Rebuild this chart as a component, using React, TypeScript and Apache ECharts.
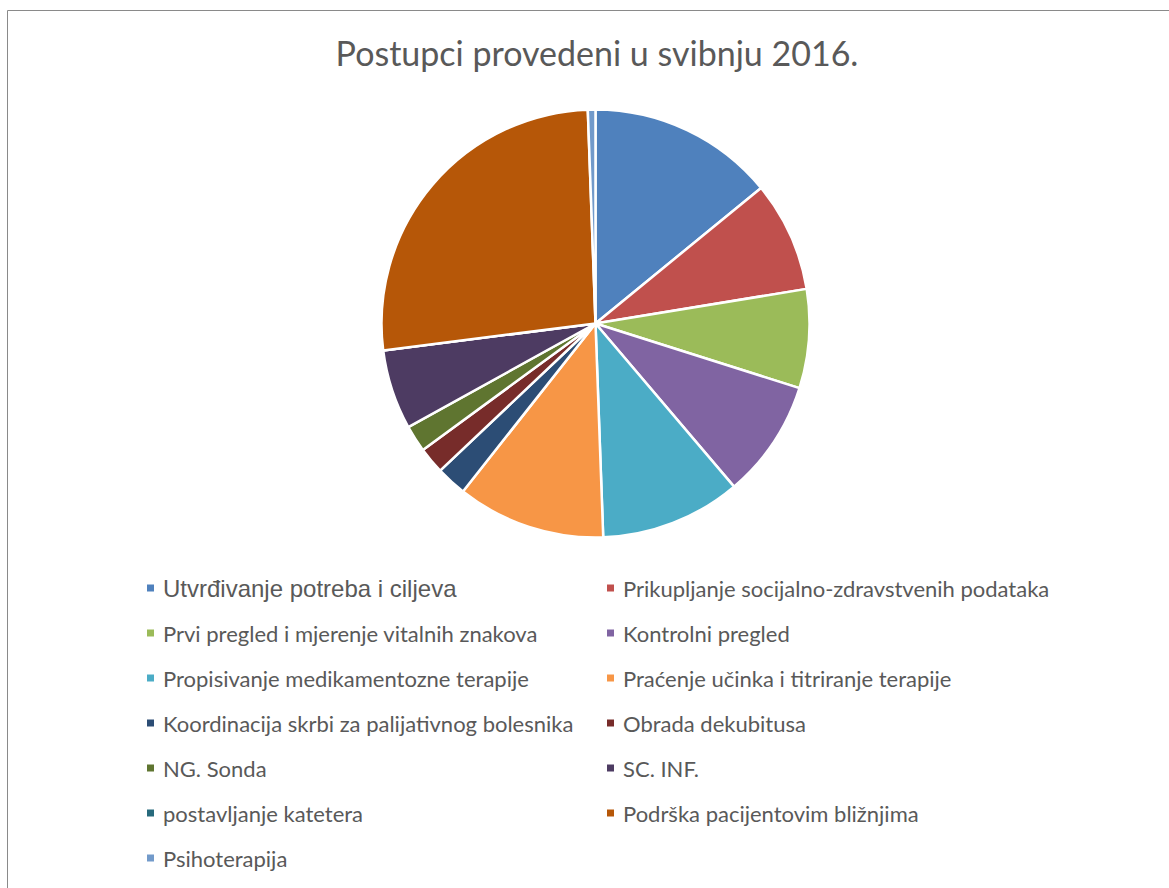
import React, { useEffect, useRef } from "react";
import * as echarts from "echarts";

const categories = [
  "Utvrđivanje potreba i ciljeva",
  "Prikupljanje socijalno-zdravstvenih podataka",
  "Prvi pregled i mjerenje vitalnih znakova",
  "Kontrolni pregled",
  "Propisivanje medikamentozne terapije",
  "Praćenje učinka i titriranje terapije",
  "Koordinacija skrbi za palijativnog bolesnika",
  "Obrada dekubitusa",
  "NG. Sonda",
  "SC. INF.",
  "postavljanje katetera",
  "Podrška pacijentovim bližnjima",
  "Psihoterapija",
];

const values = [49, 29, 26, 31, 37, 39, 8, 7, 7, 21, 0, 92, 2];

const colors = [
  "#4F81BD",
  "#C0504D",
  "#9BBB59",
  "#8064A2",
  "#4BACC6",
  "#F79646",
  "#2C4D75",
  "#772C2A",
  "#5F7530",
  "#4D3B62",
  "#276A7C",
  "#B65708",
  "#729ACA",
];

const titleText = "Postupci provedeni u svibnju 2016.";

export default function App() {
  const ref = useRef<HTMLDivElement>(null);
  useEffect(() => {
    if (!ref.current) return;
    const chart = echarts.init(ref.current, undefined, { renderer: "svg" });
    const font = "Lato";
    const legendItem = (i: number) => {
      const item: any = { name: categories[i], icon: "rect" };
      if (i === 0) {
        item.textStyle = {
          fontFamily: "Liberation Sans",
          fontSize: 24,
          lineHeight: 24,
          color: "#595959",
        };
      }
      return item;
    };
    const leftIdx = categories.map((_, i) => i).filter((i) => i % 2 === 0);
    const rightIdx = categories.map((_, i) => i).filter((i) => i % 2 === 1);
    const legendBase = {
      orient: "vertical",
      top: 571,
      itemWidth: 9,
      itemHeight: 9,
      itemGap: 21,
      selectedMode: false,
      textStyle: {
        fontFamily: font,
        fontSize: 22,
        lineHeight: 24,
        color: "#595959",
        padding: [0, 0, 0, 3],
      },
    };
    chart.setOption({
      animation: false,
      color: colors,
      title: {
        text: titleText,
        left: 592,
        textAlign: "center",
        top: 30,
        textStyle: {
          fontFamily: font,
          fontSize: 34,
          fontWeight: "normal",
          color: "#595959",
        },
      },
      graphic: [
        {
          type: "rect",
          shape: { x: 7.5, y: 10.5, width: 1300, height: 1000 },
          style: { fill: "none", stroke: "#8a8a8a", lineWidth: 1 },
          silent: true,
        },
      ],
      legend: [
        { ...legendBase, left: 140, data: leftIdx.map(legendItem) },
        { ...legendBase, left: 600, data: rightIdx.map(legendItem) },
      ],
      series: [
        {
          type: "pie",
          center: [595.5, 323.5],
          radius: 214,
          startAngle: 90,
          clockwise: true,
          label: { show: false },
          labelLine: { show: false },
          emphasis: { disabled: true },
          itemStyle: { borderColor: "#ffffff", borderWidth: 2.5 },
          data: categories.map((name, i) => ({ name, value: values[i] })),
        },
      ],
    });
    return () => chart.dispose();
  }, []);
  return (
    <div
      ref={ref}
      style={{ position: "absolute", left: 0, top: 0, width: 1169, height: 888, background: "#fff" }}
    />
  );
}
